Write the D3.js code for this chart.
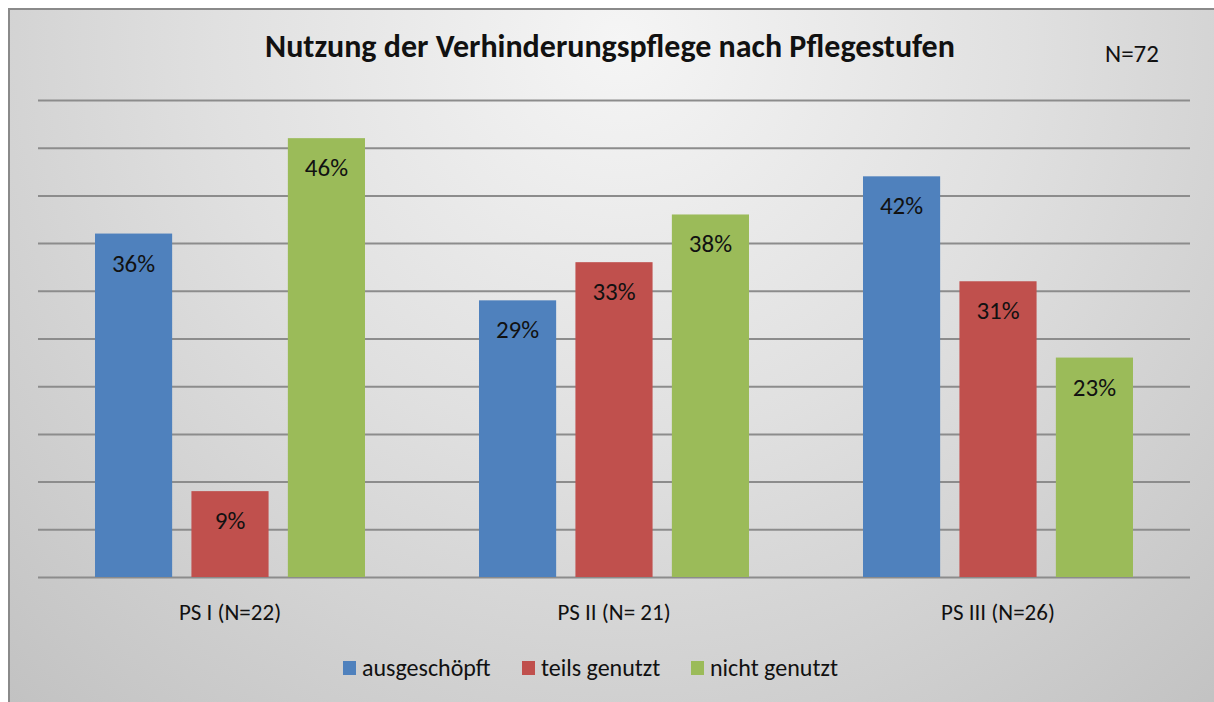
<!DOCTYPE html>
<html>
<head>
	<meta charset="UTF-8"/>
	<title>Nutzung der Verhinderungspflege nach Pflegestufen</title>
	<style type="text/css">
		body {
		margin: 0;
		background: #fff;
		font-family: Calibri, Carlito, Lato, sans-serif;
		}

		svg {
		display: block;
		}

		.grid path {
		stroke-width: 0;
		}

		.grid .tick line {
		stroke: #8c8c8c;
		stroke-width: 2;
		}

		.grid .tick text {
		display: none;
		}

		.xaxis path, .xaxis line {
		display: none;
		}

		.xaxis text {
		font-size: 23px;
		fill: #111;
		font-family: Calibri, Carlito, Lato, sans-serif;
		}

		text.value {
		font-size: 25px;
		fill: #111;
		}

		text.title {
		font-size: 32px;
		font-weight: 700;
		fill: #111;
		}

		text.note {
		font-size: 25px;
		fill: #111;
		}

		text.legend {
		font-size: 24px;
		fill: #111;
		}
	</style>
	<script src="https://d3js.org/d3.v7.min.js"></script>
</head>
<body>

	<svg id="chart" width="1214" height="702"></svg>

	<script>
		// data
		const categories = ['PS I (N=22)', 'PS II (N= 21)', 'PS III (N=26)'];
		const seriesNames = ['ausgeschöpft', 'teils genutzt', 'nicht genutzt'];
		const ausgeschoepft = [36, 29, 42];
		const teilsGenutzt = [9, 33, 31];
		const nichtGenutzt = [46, 38, 23];
		const colors = ['#4f81bd', '#c0504d', '#9bbb59'];
		const yTicks = [0, 5, 10, 15, 20, 25, 30, 35, 40, 45, 50];

		const series = [ausgeschoepft, teilsGenutzt, nichtGenutzt];
		const rows = categories.map((c, i) => ({
			category: c,
			values: seriesNames.map((s, j) => ({ name: s, value: series[j][i], color: colors[j] }))
		}));

		const W = 1214, H = 702;
		const plot = { left: 38, right: 1190, top: 100, bottom: 577 };

		const svg = d3.select('#chart');

		// background frame with soft radial gradient
		const defs = svg.append('defs');
		const grad = defs.append('radialGradient')
			.attr('id', 'bg')
			.attr('gradientUnits', 'userSpaceOnUse')
			.attr('cx', 620).attr('cy', 40)
			.attr('r', 900)
			.attr('fx', 620).attr('fy', 40);
		grad.append('stop').attr('offset', '0%').attr('stop-color', '#f5f5f5');
		grad.append('stop').attr('offset', '45%').attr('stop-color', '#e0e0e0');
		grad.append('stop').attr('offset', '100%').attr('stop-color', '#c2c2c2');

		svg.append('rect')
			.attr('x', 9).attr('y', 9)
			.attr('width', W - 9).attr('height', H - 9)
			.attr('fill', 'url(#bg)');
		svg.append('path')
			.attr('d', `M9,${H} V9 H${W}`)
			.attr('fill', 'none')
			.attr('stroke', '#8a8a8a')
			.attr('stroke-width', 2);

		// scales
		const y = d3.scaleLinear()
			.domain([0, 50])
			.range([plot.bottom, plot.top]);

		const x0 = d3.scaleBand()
			.domain(categories)
			.range([plot.left, plot.right])
			.padding(0);

		const x1 = d3.scaleBand()
			.domain(seriesNames)
			.range([57, x0.bandwidth() - 57])
			.paddingInner(0.2)
			.paddingOuter(0);

		// gridlines
		svg.append('g')
			.attr('class', 'grid')
			.attr('transform', `translate(${plot.left},0)`)
			.call(d3.axisLeft(y).tickValues(yTicks).tickSize(-(plot.right - plot.left)).tickFormat(''));

		// bars
		const groups = svg.append('g')
			.selectAll('g')
			.data(rows)
			.join('g')
			.attr('transform', d => `translate(${x0(d.category)},0)`);

		groups.selectAll('rect')
			.data(d => d.values)
			.join('rect')
			.attr('x', d => x1(d.name))
			.attr('y', d => y(d.value))
			.attr('width', x1.bandwidth())
			.attr('height', d => y(0) - y(d.value))
			.attr('fill', d => d.color);

		groups.selectAll('text.value')
			.data(d => d.values)
			.join('text')
			.attr('class', 'value')
			.attr('x', d => x1(d.name) + x1.bandwidth() / 2)
			.attr('y', d => y(d.value) + 38)
			.attr('text-anchor', 'middle')
			.text(d => d.value + '%');

		// category axis
		svg.append('g')
			.attr('class', 'xaxis')
			.attr('transform', `translate(0,${plot.bottom})`)
			.call(d3.axisBottom(x0).tickSize(0).tickPadding(0))
			.selectAll('text')
			.attr('dy', null)
			.attr('y', 43);

		// title and N
		svg.append('text')
			.attr('class', 'title')
			.attr('x', 610).attr('y', 57)
			.attr('text-anchor', 'middle')
			.text('Nutzung der Verhinderungspflege nach Pflegestufen');

		svg.append('text')
			.attr('class', 'note')
			.attr('x', 1105).attr('y', 62)
			.text('N=72');

		// legend
		const legendX = [343, 522, 691];
		const legend = svg.append('g')
			.selectAll('g')
			.data(seriesNames)
			.join('g')
			.attr('transform', (d, i) => `translate(${legendX[i]},661)`);

		legend.append('rect')
			.attr('width', 13).attr('height', 14)
			.attr('fill', (d, i) => colors[i]);

		legend.append('text')
			.attr('class', 'legend')
			.attr('x', 19).attr('y', 15)
			.text(d => d);
	</script>

</body>
</html>
